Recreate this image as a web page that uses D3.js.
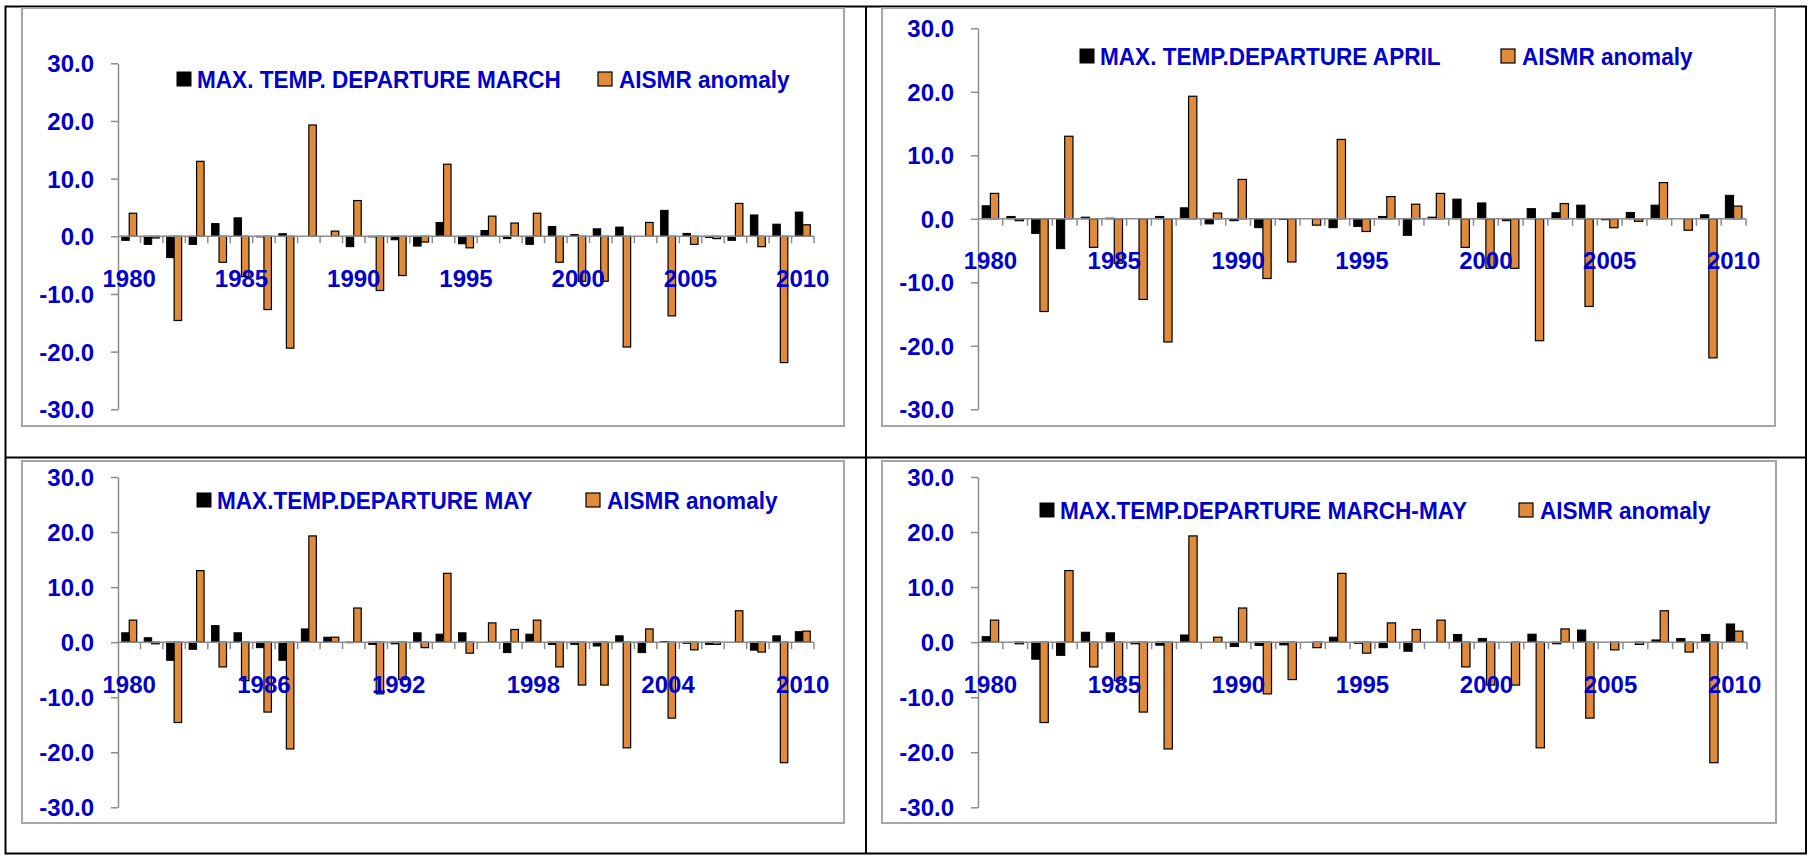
<!DOCTYPE html>
<html>
<head>
<meta charset="utf-8">
<script src="https://cdn.jsdelivr.net/npm/d3@7"></script>
<style>
  body { margin: 0; background: #fff; }
  svg text { font-family: "Liberation Sans", Arial, sans-serif; font-weight: bold; fill: #0000cc; }
</style>
</head>
<body>
<svg id="theCanvas" width="1813" height="856"></svg>
<script>
  var years = [1980,1981,1982,1983,1984,1985,1986,1987,1988,1989,1990,1991,1992,1993,1994,1995,
               1996,1997,1998,1999,2000,2001,2002,2003,2004,2005,2006,2007,2008,2009,2010];

  // AISMR anomaly, same in every panel
  var aismr = [4.0,-0.3,-14.6,13.0,-4.5,-7.0,-12.7,-19.4,19.3,0.9,6.2,-9.4,-6.8,-1.0,12.5,-2.0,
               3.5,2.3,4.0,-4.5,-7.8,-7.8,-19.2,2.4,-13.8,-1.4,-0.4,5.7,-1.8,-21.9,2.0];

  // max temp departures
  var tmaxMarch = [-0.7,-1.4,-3.7,-1.4,2.2,3.2,-0.1,0.45,0,0,-1.8,-0.1,-0.6,-1.7,2.4,-1.3,
                   1.0,-0.4,-1.4,1.7,0.3,1.3,1.6,0,4.5,0.5,-0.2,-0.7,3.7,2.1,4.2];
  var tmaxApril = [2.05,0.37,-2.3,-4.7,0.26,0.1,0,0.37,1.73,-0.8,-0.3,-1.4,-0.1,0,-1.4,-1.2,
                   0.37,-2.6,0.26,3.1,2.5,-0.3,1.6,0.95,2.15,-0.15,1.0,2.15,0,0.63,3.7];
  var tmaxMay   = [1.7,0.8,-3.3,-1.3,3.0,1.7,-1.0,-3.3,2.4,0.9,-0.1,-0.4,-0.3,1.7,1.45,1.7,
                   0,-1.9,1.45,-0.4,-0.4,-0.7,1.15,-1.9,0.1,-0.2,-0.4,0,-1.45,1.15,1.9];
  var tmaxMam   = [1.0,0,-3.1,-2.4,1.8,1.7,-0.3,-0.55,1.3,0,-0.8,-0.6,-0.5,0,0.9,-0.2,
                   -1.0,-1.65,0,1.4,0.67,0,1.45,-0.3,2.2,0,0,0.4,0.65,1.4,3.3];

  var yTicks = [30,20,10,0,-10,-20,-30];
  var labelsBy5 = [1980,1985,1990,1995,2000,2005,2010];
  var labelsBy6 = [1980,1986,1992,1998,2004,2010];
  var tempNames = ["MAX. TEMP. DEPARTURE MARCH","MAX. TEMP.DEPARTURE APRIL",
                   "MAX.TEMP.DEPARTURE MAY","MAX.TEMP.DEPARTURE MARCH-MAY"];
  var rainName = "AISMR anomaly";

  var orange = "#e08a3c";
  var axisGrey = "#8c8c8c";
  var fontSize = "24px";

  var panels = [
    {frame:[22,8,844,426],   ax:[118,814],  yr:[409.3,63.3], lg:[177,79,598],  temps:tmaxMarch, name:tempNames[0], labels:labelsBy5},
    {frame:[882,8,1775,426], ax:[978,1746], yr:[409.3,28.3], lg:[1080,56,1501], temps:tmaxApril, name:tempNames[1], labels:labelsBy5},
    {frame:[22,461,844,823], ax:[118,814],  yr:[807.3,477],  lg:[197,500,586], temps:tmaxMay,   name:tempNames[2], labels:labelsBy6},
    {frame:[882,461,1776,823],ax:[978,1747],yr:[807.3,477],  lg:[1040,510,1519],temps:tmaxMam,  name:tempNames[3], labels:labelsBy5}
  ];

  var svg = d3.select("#theCanvas");

  // table lines
  svg.append("rect").attr("x",5.5).attr("y",6.5).attr("width",1800.5).attr("height",847)
    .attr("fill","none").attr("stroke","#000").attr("stroke-width",2);
  svg.append("line").attr("x1",866).attr("x2",866).attr("y1",6.5).attr("y2",853.5)
    .attr("stroke","#000").attr("stroke-width",2);
  svg.append("line").attr("x1",5.5).attr("x2",1806).attr("y1",457.5).attr("y2",457.5)
    .attr("stroke","#000").attr("stroke-width",2);

  // squeeze legend text a bit, the original font is narrower
  function squeeze(sel){
    sel.each(function(){
      var w = this.getComputedTextLength();
      d3.select(this).attr("textLength", w * 0.94).attr("lengthAdjust","spacingAndGlyphs");
    });
  }

  panels.forEach(function(p){
    var g = svg.append("g");

    g.append("rect")
      .attr("x",p.frame[0]).attr("y",p.frame[1])
      .attr("width",p.frame[2]-p.frame[0]).attr("height",p.frame[3]-p.frame[1])
      .attr("fill","#fff").attr("stroke","#a6a6a6").attr("stroke-width",2);

    var x = d3.scaleBand().domain(years).range(p.ax).paddingInner(0).paddingOuter(0);
    var xs = d3.scaleBand().domain(["t","r"]).range([0,x.bandwidth()]).paddingInner(0).paddingOuter(0.5);
    var y = d3.scaleLinear().domain([-30,30]).range(p.yr);

    // y axis
    var yAxis = g.append("g")
      .attr("transform","translate(" + p.ax[0] + ",0)")
      .call(d3.axisLeft(y).tickValues(yTicks).tickSize(7).tickSizeOuter(0).tickPadding(17)
        .tickFormat(function(d){ return d.toFixed(1); }));
    yAxis.select(".domain").attr("stroke",axisGrey).attr("stroke-width",1.5);
    yAxis.selectAll(".tick line").attr("stroke",axisGrey).attr("stroke-width",1.5);
    yAxis.selectAll(".tick text").attr("font-size",fontSize).attr("dy","0.36em")
      .style("font-family","'Liberation Sans', Arial, sans-serif").style("fill","#0000cc");

    // bars
    var rows = years.map(function(yr,i){ return {year:yr, t:p.temps[i], r:aismr[i]}; });

    g.selectAll("rect.temp").data(rows).enter().append("rect")
      .attr("class","temp")
      .attr("x",function(d){ return x(d.year) + xs("t"); })
      .attr("y",function(d){ return y(Math.max(0,d.t)); })
      .attr("width",xs.bandwidth())
      .attr("height",function(d){ return Math.abs(y(d.t) - y(0)); })
      .attr("fill","#000").attr("stroke","#000").attr("stroke-width",1);

    g.selectAll("rect.rain").data(rows).enter().append("rect")
      .attr("class","rain")
      .attr("x",function(d){ return x(d.year) + xs("r"); })
      .attr("y",function(d){ return y(Math.max(0,d.r)); })
      .attr("width",xs.bandwidth())
      .attr("height",function(d){ return Math.abs(y(d.r) - y(0)); })
      .attr("fill",orange).attr("stroke","#000").attr("stroke-width",1.2);

    // x axis line + category ticks
    var y0 = y(0);
    g.append("line").attr("x1",p.ax[0]).attr("x2",p.ax[1]).attr("y1",y0).attr("y2",y0)
      .attr("stroke",axisGrey).attr("stroke-width",1.5);
    g.selectAll("line.xt").data(years).enter().append("line")
      .attr("class","xt")
      .attr("x1",function(d){ return x(d) + x.step(); })
      .attr("x2",function(d){ return x(d) + x.step(); })
      .attr("y1",y0).attr("y2",y0 + 7)
      .attr("stroke",axisGrey).attr("stroke-width",1.5);

    // year labels
    g.selectAll("text.yr").data(p.labels).enter().append("text")
      .attr("class","yr")
      .attr("x",function(d){ return x(d) + x.bandwidth()/2; })
      .attr("y",y0 + 42)
      .attr("dy","0.36em")
      .attr("text-anchor","middle")
      .attr("font-size",fontSize)
      .text(function(d){ return d; });

    // legend
    var lg = g.append("g");
    lg.append("rect").attr("x",p.lg[0]).attr("y",p.lg[1]-7).attr("width",14).attr("height",14)
      .attr("fill","#000").attr("stroke","#000").attr("stroke-width",1);
    lg.append("text").attr("x",p.lg[0]+20).attr("y",p.lg[1]).attr("dy","0.36em")
      .attr("font-size",fontSize).text(p.name).call(squeeze);
    lg.append("rect").attr("x",p.lg[2]).attr("y",p.lg[1]-7).attr("width",14).attr("height",14)
      .attr("fill",orange).attr("stroke","#000").attr("stroke-width",1.2);
    lg.append("text").attr("x",p.lg[2]+21).attr("y",p.lg[1]).attr("dy","0.36em")
      .attr("font-size",fontSize).text(rainName).call(squeeze);
  });
</script>
</body>
</html>
